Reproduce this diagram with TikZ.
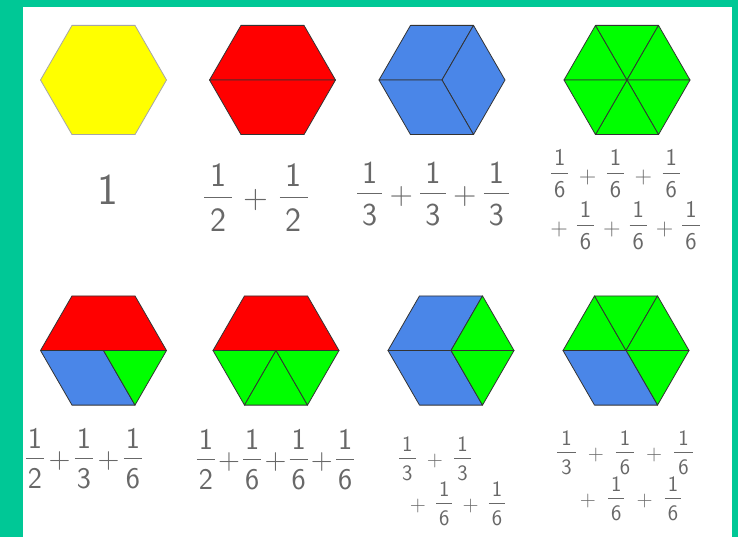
\documentclass[tikz,border=0pt]{standalone}
\usetikzlibrary{calc}
\definecolor{frameteal}{HTML}{00C896}
\definecolor{hyel}{HTML}{FFFF00}
\definecolor{hred}{HTML}{FF0000}
\definecolor{hblue}{HTML}{4A86E8}
\definecolor{hgreen}{HTML}{00FF00}
\definecolor{ink}{HTML}{686868}
\setlength{\arrayrulewidth}{1pt}
\newlength\fs \newlength\ps
\newcommand\setsp[2]{\setlength\fs{#1pt}\setlength\ps{#2pt}}
\newcommand\fr[2]{\raisebox{0pt}[\dimexpr\height-0.05em\relax][\dimexpr\depth-0.3em\relax]{\begin{tabular}{@{\hspace{\fs}}c@{\hspace{\fs}}}#1\\[0pt]\hline\rule{0pt}{1.0em}#2\end{tabular}}}
\newcommand\pl{\hspace{\ps}+\hspace{\ps}}
\newcommand\lp{+\hspace{\ps}}
\newcommand\hexat[3]{%
  \coordinate (#1c) at (#2,#3);
  \coordinate (#1L) at ($(#1c)+(-63,0)$);
  \coordinate (#1UL) at ($(#1c)+(-31.5,-54.6)$);
  \coordinate (#1UR) at ($(#1c)+(31.5,-54.6)$);
  \coordinate (#1R) at ($(#1c)+(63,0)$);
  \coordinate (#1LR) at ($(#1c)+(31.5,54.6)$);
  \coordinate (#1LL) at ($(#1c)+(-31.5,54.6)$);}
\begin{document}
\begin{tikzpicture}[x=1pt,y=-1pt,
  piece/.style={draw=black!80,line width=0.8pt,line join=round},
  yel/.style={piece,fill=hyel,draw=black!35},
  red/.style={piece,fill=hred},
  blu/.style={piece,fill=hblue},
  grn/.style={piece,fill=hgreen},
  hand/.style={text=ink,inner sep=0pt,font=\fontsize{#1}{#1}\selectfont\sffamily}]
\fill[frameteal] (0,0) rectangle (738,537);
\fill[white] (23,7) rectangle (732,537);
\useasboundingbox (0,0) rectangle (738,537);
% centres
\hexat{a}{103.5}{80}
\hexat{b}{272.5}{80}
\hexat{d}{442}{80}
\hexat{e}{627}{80}
\hexat{f}{103.5}{350.5}
\hexat{g}{276}{350.5}
\hexat{h}{451}{350.5}
\hexat{k}{626}{350.5}
% 1: whole
\path[yel] (aL)--(aUL)--(aUR)--(aR)--(aLR)--(aLL)--cycle;
% 2: halves
\path[red] (bL)--(bUL)--(bUR)--(bR)--cycle;
\path[red] (bL)--(bR)--(bLR)--(bLL)--cycle;
% 3: thirds
\path[blu] (dc)--(dL)--(dUL)--(dUR)--cycle;
\path[blu] (dc)--(dUR)--(dR)--(dLR)--cycle;
\path[blu] (dc)--(dLR)--(dLL)--(dL)--cycle;
% 4: sixths
\path[grn] (ec)--(eL)--(eUL)--cycle;
\path[grn] (ec)--(eUL)--(eUR)--cycle;
\path[grn] (ec)--(eUR)--(eR)--cycle;
\path[grn] (ec)--(eR)--(eLR)--cycle;
\path[grn] (ec)--(eLR)--(eLL)--cycle;
\path[grn] (ec)--(eLL)--(eL)--cycle;
% 5
\path[red] (fL)--(fUL)--(fUR)--(fR)--cycle;
\path[blu] (fL)--(fc)--(fLR)--(fLL)--cycle;
\path[grn] (fc)--(fR)--(fLR)--cycle;
% 6
\path[red] (gL)--(gUL)--(gUR)--(gR)--cycle;
\path[grn] (gL)--(gc)--(gLL)--cycle;
\path[grn] (gc)--(gLR)--(gLL)--cycle;
\path[grn] (gc)--(gR)--(gLR)--cycle;
% 7
\path[blu] (hL)--(hUL)--(hUR)--(hc)--cycle;
\path[blu] (hL)--(hc)--(hLR)--(hLL)--cycle;
\path[grn] (hc)--(hUR)--(hR)--cycle;
\path[grn] (hc)--(hR)--(hLR)--cycle;
% 8
\path[grn] (kL)--(kUL)--(kc)--cycle;
\path[grn] (kUL)--(kUR)--(kc)--cycle;
\path[grn] (kUR)--(kR)--(kc)--cycle;
\path[grn] (kc)--(kR)--(kLR)--cycle;
\path[blu] (kL)--(kc)--(kLR)--(kLL)--cycle;
% labels
\node[hand=44] (t1) at (108,190) {1};
\node[hand=34] (t2) at (256,198) {\setsp{6}{11.5}\fr12\pl\fr12};
\node[hand=32] (t3) at (433,194) {\setsp{5}{7.5}\fr13\pl\fr13\pl\fr13};
\node[hand=24] (t4a) at (615.5,174) {\setsp{3}{10.5}\fr16\pl\fr16\pl\fr16};
\node[hand=24] (t4b) at (625,226) {\setsp{3}{9}\lp\fr16\pl\fr16\pl\fr16};
\node[hand=30] (t5) at (84,459) {\setsp{2}{4.5}\fr12\pl\fr13\pl\fr16};
\node[hand=30] (t6) at (275.5,460) {\setsp{2}{3.2}\fr12\pl\fr16\pl\fr16\pl\fr16};
\node[hand=22] (t7a) at (435,459) {\setsp{3}{11.4}\fr13\pl\fr13};
\node[hand=22] (t7b) at (457.5,504) {\setsp{3}{10.2}\lp\fr16\pl\fr16};
\node[hand=22] (t8a) at (625,453) {\setsp{4}{12}\fr13\pl\fr16\pl\fr16};
\node[hand=22] (t8b) at (630.5,499) {\setsp{3}{12.2}\lp\fr16\pl\fr16};
\end{tikzpicture}
\end{document}
